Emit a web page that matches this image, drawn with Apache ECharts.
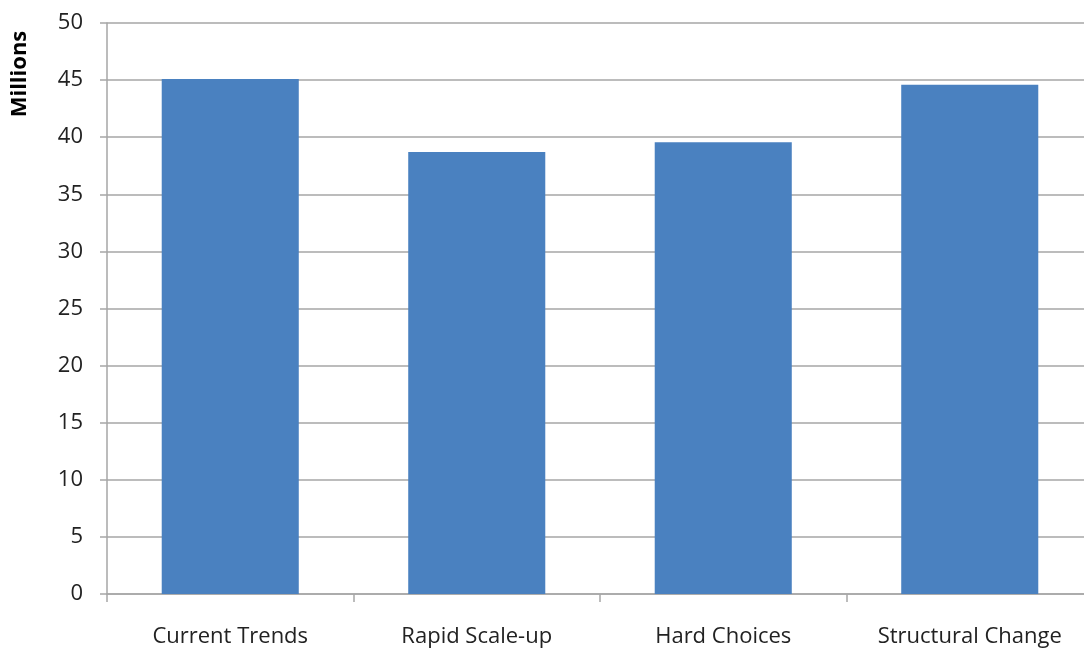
<!DOCTYPE html>
<html style="height: 100%">
<head>
    <meta charset="utf-8">
</head>
<body style="height: 100%; margin: 0; overflow: hidden">
<div id="container" style="width: 1093px; height: 650px"></div>
<script type="text/javascript" src="https://cdn.jsdelivr.net/npm/echarts@6/dist/echarts.min.js"></script>
<script type="text/javascript">
    var categories = ['Current Trends', 'Rapid Scale-up', 'Hard Choices', 'Structural Change'];
    var values = [45.1, 38.7, 39.55, 44.6];

    var myChart = echarts.init(document.getElementById('container'));
    var font = '"Open Sans", "Noto Sans", sans-serif';

    var option = {
        animation: false,
        grid: {left: 107, right: 0, top: 23, bottom: 56},
        graphic: [{
            type: 'text',
            x: 20, y: 74,
            rotation: Math.PI / 2,
            style: {
                text: 'Millions',
                font: 'bold 22px ' + font,
                fill: '#000',
                align: 'center',
                verticalAlign: 'middle'
            }
        }],
        xAxis: {
            type: 'category',
            data: categories,
            axisLine: {lineStyle: {color: '#a6a6a6', width: 1.5}},
            axisTick: {show: true, length: 8, lineStyle: {color: '#a6a6a6', width: 1.5}},
            axisLabel: {color: '#222', fontSize: 22, fontFamily: font, margin: 32, interval: 0}
        },
        yAxis: {
            type: 'value',
            min: 0, max: 50, interval: 5,
            axisLine: {show: true, lineStyle: {color: '#a6a6a6', width: 1.5}},
            axisTick: {show: true, length: 7, lineStyle: {color: '#a6a6a6', width: 1.5}},
            axisLabel: {color: '#222', fontSize: 22, fontFamily: font, margin: 24},
            splitLine: {lineStyle: {color: '#a6a6a6', width: 1.5}}
        },
        series: [{
            type: 'bar',
            data: values,
            barWidth: '55.6%',
            itemStyle: {color: '#4a81c0'}
        }]
    };

    myChart.setOption(option);
</script>
</body>
</html>
